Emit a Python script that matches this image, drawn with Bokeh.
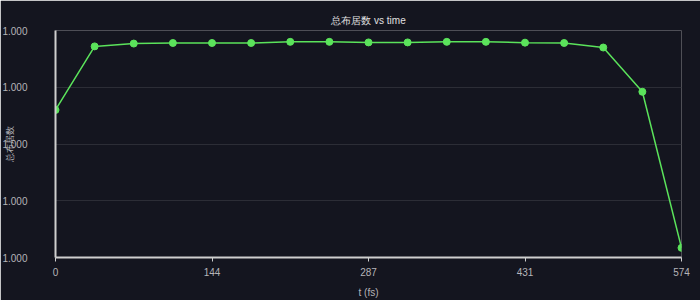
from bokeh.plotting import figure
from bokeh.models import FixedTicker, NumeralTickFormatter, Range1d, ColumnDataSource
from bokeh.embed import file_html
from bokeh.resources import INLINE

# Data
t_fs = [0.0, 35.875, 71.75, 107.625, 143.5, 179.375, 215.25, 251.125, 287.0,
        322.875, 358.75, 394.625, 430.5, 466.375, 502.25, 538.125, 574.0]
population = [0.999986, 0.9999972, 0.9999977, 0.9999978, 0.9999978, 0.9999978,
              0.9999980, 0.9999980, 0.9999979, 0.9999979, 0.9999980, 0.9999980,
              0.99999786, 0.9999978, 0.9999970, 0.9999892, 0.9999617]
x_ticks = [0.0, 143.5, 287.0, 430.5, 574.0]
y_ticks = [0.99996, 0.99997, 0.99998, 0.99999, 1.0]

title_text = "总布居数 vs time"
x_label = "t (fs)"
y_label = "总布居数"

BG = "#14151f"
GRID = "#2c2d36"
AXIS = "#cfcfcf"
TEXT = "#b4b4b8"
GREEN = "#5be35b"
FONT = "Liberation Sans"

src = ColumnDataSource(dict(t=t_fs, y=population))

p = figure(width=700, height=300, output_backend="svg", toolbar_location=None,
           x_range=Range1d(0, 574), y_range=Range1d(0.99996, 1.0),
           min_border_left=55, min_border_right=19, min_border_top=30,
           min_border_bottom=40, background_fill_color=BG, border_fill_color=BG,
           outline_line_color=None, title=title_text)

p.title.align = "center"
p.title.text_color = "#e0e0e0"
p.title.text_font = FONT
p.title.text_font_size = "10px"
p.title.text_font_style = "normal"
p.title.offset = 6

p.line("t", "y", source=src, line_color=GREEN, line_width=1.5)
p.scatter("t", "y", source=src, size=7, fill_color=GREEN, line_color=GREEN)

p.xgrid.grid_line_color = None
p.ygrid.grid_line_color = GRID
p.ygrid.grid_line_width = 1

xa = p.xaxis[0]
xa.ticker = FixedTicker(ticks=x_ticks)
xa.formatter = NumeralTickFormatter(format="0")
xa.axis_line_color = AXIS
xa.axis_line_width = 2
xa.major_tick_line_color = AXIS
xa.major_tick_out = 4
xa.major_tick_in = 0
xa.minor_tick_line_color = None
xa.major_label_text_color = TEXT
xa.major_label_text_font = FONT
xa.major_label_text_font_size = "10px"
xa.major_label_text_align = "right"
xa.major_label_standoff = 6
xa.axis_label = x_label
xa.axis_label_text_color = TEXT
xa.axis_label_text_font = FONT
xa.axis_label_text_font_size = "10px"
xa.axis_label_text_font_style = "normal"
xa.axis_label_standoff = 8

ya = p.yaxis[0]
ya.ticker = FixedTicker(ticks=y_ticks)
ya.formatter = NumeralTickFormatter(format="0.000")
ya.axis_line_color = AXIS
ya.axis_line_width = 2
ya.major_tick_line_color = None
ya.major_tick_out = 0
ya.major_tick_in = 0
ya.minor_tick_line_color = None
ya.major_label_text_color = TEXT
ya.major_label_text_font = FONT
ya.major_label_text_font_size = "10px"
ya.major_label_standoff = 28
ya.axis_label = y_label
ya.axis_label_text_color = TEXT
ya.axis_label_text_font = FONT
ya.axis_label_text_font_size = "9px"
ya.axis_label_text_font_style = "normal"
ya.axis_label_standoff = -16

open("out.html", "w").write(file_html(p, INLINE))
